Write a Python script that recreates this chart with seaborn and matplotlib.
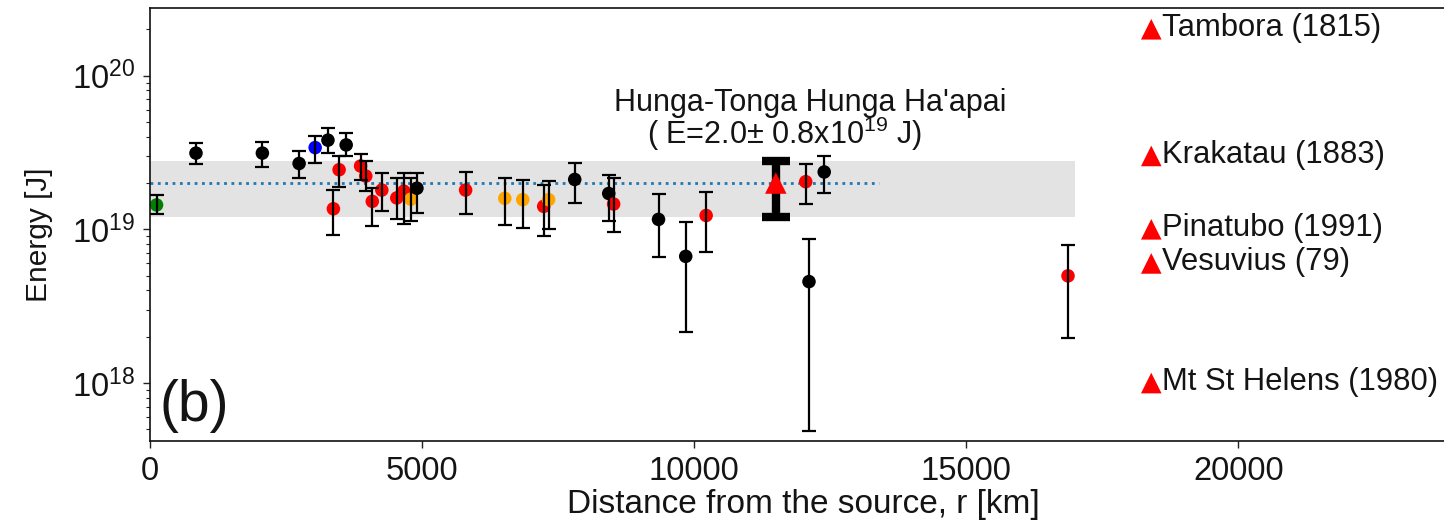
import numpy as np
import pandas as pd
import matplotlib
matplotlib.use("Agg")
import matplotlib.pyplot as plt
import seaborn as sns
from matplotlib.ticker import LogLocator, NullFormatter, FixedLocator

# ---- station estimates: distance [km], energy [J] and its lower/upper bounds ----
distance_km = [120, 845, 2065, 2740, 3035, 3270, 3605, 3475, 3370, 3870, 3965,
               4085, 4260, 4535, 4665, 4795, 4905, 5800, 6520, 6850, 7235, 7325,
               7805, 8430, 8520, 9345, 9845, 10220, 12050, 12390, 12110, 16870]
energy_j = [1.44e19, 3.13e19, 3.13e19, 2.68e19, 3.40e19, 3.80e19, 3.54e19, 2.44e19,
            1.36e19, 2.58e19, 2.22e19, 1.52e19, 1.80e19, 1.60e19, 1.77e19, 1.57e19,
            1.85e19, 1.80e19, 1.59e19, 1.56e19, 1.41e19, 1.56e19, 2.11e19, 1.71e19,
            1.46e19, 1.16e19, 6.67e18, 1.23e19, 2.04e19, 2.36e19, 4.57e18, 4.98e18]
energy_low = [1.25e19, 2.65e19, 2.55e19, 2.16e19, 2.71e19, 3.15e19, 3.00e19, 1.88e19,
              0.92e19, 2.10e19, 1.77e19, 1.05e19, 1.31e19, 1.16e19, 1.09e19, 1.13e19,
              1.27e19, 1.26e19, 1.07e19, 1.02e19, 0.90e19, 1.00e19, 1.49e19, 1.13e19,
              0.96e19, 6.56e18, 2.15e18, 7.10e18, 1.45e19, 1.71e19, 4.90e17, 1.95e18]
energy_high = [1.67e19, 3.66e19, 3.72e19, 3.24e19, 4.05e19, 4.59e19, 4.20e19, 3.00e19,
               1.80e19, 3.10e19, 2.80e19, 1.85e19, 2.32e19, 2.15e19, 2.32e19, 2.15e19,
               2.32e19, 2.36e19, 2.16e19, 2.08e19, 1.94e19, 2.06e19, 2.71e19, 2.27e19,
               2.16e19, 1.70e19, 1.11e19, 1.75e19, 2.65e19, 3.00e19, 8.70e18, 7.86e18]
station_group = ["green", "black", "black", "black", "blue", "black", "black", "red",
                 "red", "red", "red", "red", "red", "red", "red", "orange",
                 "black", "red", "orange", "orange", "red", "orange", "black", "black",
                 "red", "black", "black", "red", "red", "black", "black", "red"]

# ---- combined estimate ----
hunga_distance_km = 11500
hunga_energy = 2.0e19
hunga_uncertainty = 0.8e19
band_end_km = 17000
mean_line_end_km = 13400

# ---- reference eruptions ----
volcano_names = ["Tambora (1815)", "Krakatau (1883)", "Pinatubo (1991)",
                 "Vesuvius (79)", "Mt St Helens (1980)"]
volcano_energy = [2e20, 3e19, 1e19, 6e18, 1e18]
volcano_column_km = 18400

x_ticks = [0, 5000, 10000, 15000, 20000]

sns.set_style("ticks")
plt.rcParams["font.family"] = ["Liberation Sans", "DejaVu Sans"]
plt.rcParams["mathtext.fontset"] = "custom"
plt.rcParams["mathtext.rm"] = "Liberation Sans"
plt.rcParams["mathtext.it"] = "Liberation Sans:italic"
plt.rcParams["mathtext.bf"] = "Liberation Sans:bold"

W, H = 1444, 531
fig = plt.figure(figsize=(W / 100, H / 100), dpi=100)
ax = fig.add_axes([150 / W, 90 / H, (1456 - 150) / W, (441 - 8) / H])

df = pd.DataFrame({"distance": distance_km, "energy": energy_j,
                   "low": energy_low, "high": energy_high, "group": station_group})
palette = {"black": "#000000", "red": "#ff0000", "blue": "#0000ff",
           "green": "#008000", "orange": "#ffa500"}
text_color = "#141414"

# uncertainty band and mean level
ax.fill_between([0, band_end_km], hunga_energy - hunga_uncertainty,
                hunga_energy + hunga_uncertainty, color="#e3e3e3", lw=0, zorder=0)
ax.plot([0, mean_line_end_km], [hunga_energy, hunga_energy], ls=":",
        color="#1f77b4", lw=2, zorder=1)

# station estimates
sns.scatterplot(data=df, x="distance", y="energy", hue="group", palette=palette,
                s=95, edgecolor="none", legend=False, zorder=2, ax=ax)
ax.errorbar(df["distance"], df["energy"],
            yerr=[df["energy"] - df["low"], df["high"] - df["energy"]],
            fmt="none", ecolor="black", elinewidth=1.6, capsize=5, capthick=1.6,
            zorder=3)

# combined estimate
ax.errorbar([hunga_distance_km], [hunga_energy],
            yerr=[[hunga_uncertainty], [hunga_uncertainty]],
            fmt="none", ecolor="black", elinewidth=6, capsize=10, capthick=6, zorder=4)
sns.scatterplot(x=[hunga_distance_km], y=[hunga_energy], marker="^", color="#ff0000",
                s=240, edgecolor="none", zorder=5, ax=ax)

# reference eruptions
sns.scatterplot(x=[volcano_column_km] * len(volcano_energy), y=volcano_energy,
                marker="^", color="#ff0000", s=220, edgecolor="none", zorder=5, ax=ax)
for name, e in zip(volcano_names, volcano_energy):
    ax.annotate(name, (volcano_column_km, e), xytext=(8, -5), textcoords="offset points",
                ha="left", va="baseline", fontsize=22.3, color=text_color)

ax.text(8530, 5.9e19, "Hunga-Tonga Hunga Ha'apai", ha="left", va="baseline",
        fontsize=22, color=text_color)
ax.text(9140, 3.59e19, "( E=2.0\u00b1 0.8x10$^{19}$ J)", ha="left", va="baseline",
        fontsize=22, color=text_color)
ax.text(0.007, 0.046, "(b)", transform=ax.transAxes, ha="left", va="baseline",
        fontsize=41, color=text_color)

ax.set_yscale("log")
ax.set_xlim(0, 24000)
ax.set_ylim(4.2e17, 2.75e20)
ax.xaxis.set_major_locator(FixedLocator(x_ticks))
ax.yaxis.set_major_locator(LogLocator(base=10, numticks=10))
ax.yaxis.set_minor_locator(LogLocator(base=10, subs=np.arange(2, 10), numticks=20))
ax.yaxis.set_minor_formatter(NullFormatter())

ax.set_xlabel("Distance from the source, r [km]", fontsize=24, color=text_color,
              labelpad=2)
ax.set_ylabel("Energy [J]", fontsize=21.5, color=text_color)
ax.yaxis.set_label_coords(-0.0743, 0.476)
ax.tick_params(axis="both", which="major", labelsize=23.5, length=5, width=1,
               colors="#222222", labelcolor=text_color, direction="out")
ax.tick_params(axis="x", which="major", pad=5.5)
ax.tick_params(axis="y", which="major", pad=5.8)
ax.tick_params(axis="y", which="minor", length=3, width=0.8, colors="#222222")
for side in ["left", "bottom", "top", "right"]:
    ax.spines[side].set_visible(True)
    ax.spines[side].set_color("#111111")
    ax.spines[side].set_linewidth(1.2)

fig.savefig("out.png", dpi=100)
